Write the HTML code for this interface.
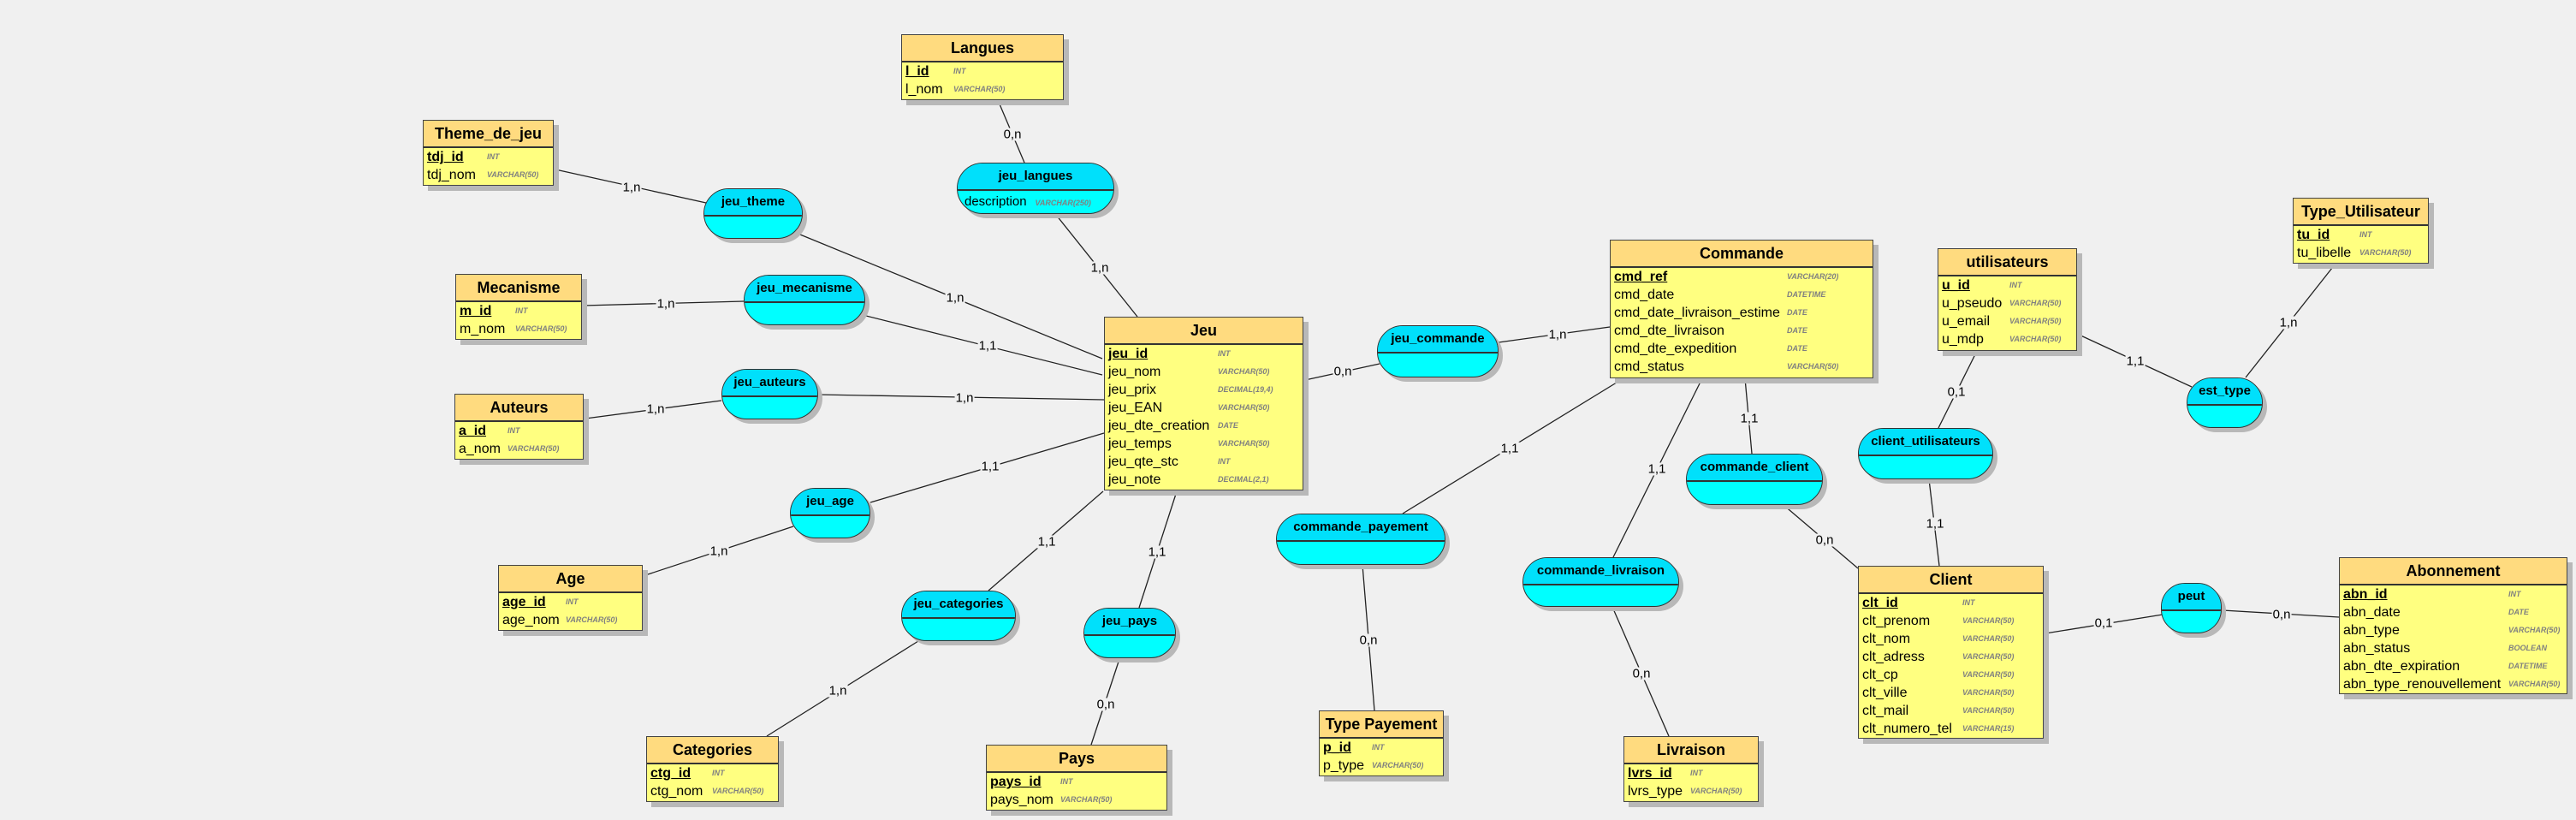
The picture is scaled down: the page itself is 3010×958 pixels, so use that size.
<!DOCTYPE html>
<html><head><meta charset="utf-8"><style>
body{margin:0;width:3010px;height:958px;background:#f0f0f0;position:relative;overflow:hidden;font-family:"Liberation Sans",sans-serif;}
.e{position:absolute;background:#ffff80;border:1px solid #444;box-shadow:6px 6px 0 #b8b8b8;box-sizing:border-box;}
.e .h{height:30px;background:#ffdb7f;border-bottom:2px solid #333;text-align:center;font-weight:bold;font-size:18px;line-height:30px;}
.e .r{height:21px;line-height:21px;font-size:16px;padding-left:4px;position:relative;white-space:nowrap;}
.e .r i{position:absolute;top:0;font-size:9px;color:#808080;font-weight:bold;}
.e .k{font-weight:bold;text-decoration:underline;}
.a{position:absolute;background:#00ffff;border:1px solid #333;border-radius:30px;box-shadow:5px 5px 0 #b8b8b8;box-sizing:border-box;overflow:hidden;}
.a .h{height:30px;background:#00e0fb;border-bottom:2px solid #333;text-align:center;font-weight:bold;font-size:15px;line-height:30px;white-space:nowrap;}
.a .b{font-size:15px;padding-left:8px;line-height:26px;white-space:nowrap;}
.a .b i{font-size:9px;color:#808080;font-weight:bold;margin-left:10px;}
.l{position:absolute;font-size:15px;background:#f0f0f0;transform:translate(-50%,-50%);line-height:15px;padding:0 1px;}
svg{position:absolute;left:0;top:0;}
</style></head><body>
<svg width="3010" height="958"><g stroke="#222" stroke-width="1.3">
<line x1="1166" y1="117" x2="1197" y2="190"/>
<line x1="1234" y1="251" x2="1329" y2="370"/>
<line x1="649" y1="198" x2="825" y2="237"/>
<line x1="930" y1="272" x2="1288" y2="419"/>
<line x1="681" y1="357" x2="869" y2="352"/>
<line x1="1008" y1="368" x2="1288" y2="438"/>
<line x1="684" y1="489" x2="843" y2="468"/>
<line x1="956" y1="461" x2="1290" y2="467"/>
<line x1="1017" y1="587" x2="1290" y2="506"/>
<line x1="751" y1="673" x2="927" y2="615"/>
<line x1="1289" y1="574" x2="1155" y2="690"/>
<line x1="1073" y1="749" x2="896" y2="860"/>
<line x1="1375" y1="574" x2="1331" y2="710"/>
<line x1="1308" y1="770" x2="1275" y2="870"/>
<line x1="1525" y1="444" x2="1612" y2="425"/>
<line x1="1751" y1="400" x2="1881" y2="382"/>
<line x1="1897" y1="442" x2="1639" y2="600"/>
<line x1="1989" y1="442" x2="1885" y2="651"/>
<line x1="2039" y1="442" x2="2047" y2="530"/>
<line x1="2084" y1="590" x2="2171" y2="664"/>
<line x1="1592" y1="660" x2="1606" y2="830"/>
<line x1="1884" y1="709" x2="1950" y2="860"/>
<line x1="2310" y1="410" x2="2265" y2="500"/>
<line x1="2254" y1="560" x2="2266" y2="661"/>
<line x1="2427" y1="390" x2="2561" y2="452"/>
<line x1="2729" y1="308" x2="2624" y2="441"/>
<line x1="2390" y1="740" x2="2527" y2="718"/>
<line x1="2597" y1="713" x2="2733" y2="721"/>
</g></svg>
<div class="l" style="left:1183px;top:157px">0,n</div>
<div class="l" style="left:1285px;top:313px">1,n</div>
<div class="l" style="left:738px;top:219px">1,n</div>
<div class="l" style="left:1116px;top:348px">1,n</div>
<div class="l" style="left:778px;top:355px">1,n</div>
<div class="l" style="left:1154px;top:404px">1,1</div>
<div class="l" style="left:766px;top:478px">1,n</div>
<div class="l" style="left:1127px;top:465px">1,n</div>
<div class="l" style="left:1157px;top:545px">1,1</div>
<div class="l" style="left:840px;top:644px">1,n</div>
<div class="l" style="left:1223px;top:633px">1,1</div>
<div class="l" style="left:979px;top:807px">1,n</div>
<div class="l" style="left:1352px;top:645px">1,1</div>
<div class="l" style="left:1292px;top:823px">0,n</div>
<div class="l" style="left:1569px;top:434px">0,n</div>
<div class="l" style="left:1820px;top:391px">1,n</div>
<div class="l" style="left:1764px;top:524px">1,1</div>
<div class="l" style="left:1936px;top:548px">1,1</div>
<div class="l" style="left:2044px;top:489px">1,1</div>
<div class="l" style="left:2132px;top:631px">0,n</div>
<div class="l" style="left:1599px;top:748px">0,n</div>
<div class="l" style="left:1918px;top:787px">0,n</div>
<div class="l" style="left:2286px;top:458px">0,1</div>
<div class="l" style="left:2261px;top:612px">1,1</div>
<div class="l" style="left:2495px;top:422px">1,1</div>
<div class="l" style="left:2674px;top:377px">1,n</div>
<div class="l" style="left:2458px;top:728px">0,1</div>
<div class="l" style="left:2666px;top:718px">0,n</div>

<!-- Entities -->
<div class="e" style="left:1053px;top:40px;width:190px;height:77px"><div class="h">Langues</div>
<div class="r"><span class="k">l_id</span><i style="left:60px">INT</i></div>
<div class="r">l_nom<i style="left:60px">VARCHAR(50)</i></div></div>

<div class="e" style="left:494px;top:140px;width:153px;height:77px"><div class="h">Theme_de_jeu</div>
<div class="r"><span class="k">tdj_id</span><i style="left:74px">INT</i></div>
<div class="r">tdj_nom<i style="left:74px">VARCHAR(50)</i></div></div>

<div class="e" style="left:532px;top:320px;width:148px;height:77px"><div class="h">Mecanisme</div>
<div class="r"><span class="k">m_id</span><i style="left:69px">INT</i></div>
<div class="r">m_nom<i style="left:69px">VARCHAR(50)</i></div></div>

<div class="e" style="left:531px;top:460px;width:151px;height:77px"><div class="h">Auteurs</div>
<div class="r"><span class="k">a_id</span><i style="left:61px">INT</i></div>
<div class="r">a_nom<i style="left:61px">VARCHAR(50)</i></div></div>

<div class="e" style="left:1290px;top:370px;width:233px;height:203px"><div class="h">Jeu</div>
<div class="r"><span class="k">jeu_id</span><i style="left:132px">INT</i></div>
<div class="r">jeu_nom<i style="left:132px">VARCHAR(50)</i></div>
<div class="r">jeu_prix<i style="left:132px">DECIMAL(19,4)</i></div>
<div class="r">jeu_EAN<i style="left:132px">VARCHAR(50)</i></div>
<div class="r">jeu_dte_creation<i style="left:132px">DATE</i></div>
<div class="r">jeu_temps<i style="left:132px">VARCHAR(50)</i></div>
<div class="r">jeu_qte_stc<i style="left:132px">INT</i></div>
<div class="r">jeu_note<i style="left:132px">DECIMAL(2,1)</i></div></div>

<div class="e" style="left:582px;top:660px;width:169px;height:77px"><div class="h">Age</div>
<div class="r"><span class="k">age_id</span><i style="left:78px">INT</i></div>
<div class="r">age_nom<i style="left:78px">VARCHAR(50)</i></div></div>

<div class="e" style="left:755px;top:860px;width:155px;height:77px"><div class="h">Categories</div>
<div class="r"><span class="k">ctg_id</span><i style="left:76px">INT</i></div>
<div class="r">ctg_nom<i style="left:76px">VARCHAR(50)</i></div></div>

<div class="e" style="left:1152px;top:870px;width:212px;height:77px"><div class="h">Pays</div>
<div class="r"><span class="k">pays_id</span><i style="left:86px">INT</i></div>
<div class="r">pays_nom<i style="left:86px">VARCHAR(50)</i></div></div>

<div class="e" style="left:1881px;top:280px;width:308px;height:162px"><div class="h">Commande</div>
<div class="r"><span class="k">cmd_ref</span><i style="left:206px">VARCHAR(20)</i></div>
<div class="r">cmd_date<i style="left:206px">DATETIME</i></div>
<div class="r">cmd_date_livraison_estime<i style="left:206px">DATE</i></div>
<div class="r">cmd_dte_livraison<i style="left:206px">DATE</i></div>
<div class="r">cmd_dte_expedition<i style="left:206px">DATE</i></div>
<div class="r">cmd_status<i style="left:206px">VARCHAR(50)</i></div></div>

<div class="e" style="left:2264px;top:290px;width:163px;height:120px"><div class="h">utilisateurs</div>
<div class="r"><span class="k">u_id</span><i style="left:83px">INT</i></div>
<div class="r">u_pseudo<i style="left:83px">VARCHAR(50)</i></div>
<div class="r">u_email<i style="left:83px">VARCHAR(50)</i></div>
<div class="r">u_mdp<i style="left:83px">VARCHAR(50)</i></div></div>

<div class="e" style="left:2679px;top:231px;width:159px;height:77px"><div class="h">Type_Utilisateur</div>
<div class="r"><span class="k">tu_id</span><i style="left:77px">INT</i></div>
<div class="r">tu_libelle<i style="left:77px">VARCHAR(50)</i></div></div>

<div class="e" style="left:2171px;top:661px;width:217px;height:202px"><div class="h">Client</div>
<div class="r"><span class="k">clt_id</span><i style="left:121px">INT</i></div>
<div class="r">clt_prenom<i style="left:121px">VARCHAR(50)</i></div>
<div class="r">clt_nom<i style="left:121px">VARCHAR(50)</i></div>
<div class="r">clt_adress<i style="left:121px">VARCHAR(50)</i></div>
<div class="r">clt_cp<i style="left:121px">VARCHAR(50)</i></div>
<div class="r">clt_ville<i style="left:121px">VARCHAR(50)</i></div>
<div class="r">clt_mail<i style="left:121px">VARCHAR(50)</i></div>
<div class="r">clt_numero_tel<i style="left:121px">VARCHAR(15)</i></div></div>

<div class="e" style="left:2733px;top:651px;width:267px;height:160px"><div class="h">Abonnement</div>
<div class="r"><span class="k">abn_id</span><i style="left:197px">INT</i></div>
<div class="r">abn_date<i style="left:197px">DATE</i></div>
<div class="r">abn_type<i style="left:197px">VARCHAR(50)</i></div>
<div class="r">abn_status<i style="left:197px">BOOLEAN</i></div>
<div class="r">abn_dte_expiration<i style="left:197px">DATETIME</i></div>
<div class="r">abn_type_renouvellement<i style="left:197px">VARCHAR(50)</i></div></div>

<div class="e" style="left:1541px;top:830px;width:146px;height:77px"><div class="h">Type Payement</div>
<div class="r"><span class="k">p_id</span><i style="left:61px">INT</i></div>
<div class="r">p_type<i style="left:61px">VARCHAR(50)</i></div></div>

<div class="e" style="left:1897px;top:860px;width:158px;height:77px"><div class="h">Livraison</div>
<div class="r"><span class="k">lvrs_id</span><i style="left:77px">INT</i></div>
<div class="r">lvrs_type<i style="left:77px">VARCHAR(50)</i></div></div>

<!-- Associations -->
<div class="a" style="left:822px;top:220px;width:116px;height:59px"><div class="h">jeu_theme</div></div>
<div class="a" style="left:1118px;top:190px;width:184px;height:60px"><div class="h">jeu_langues</div><div class="b">description<i>VARCHAR(250)</i></div></div>
<div class="a" style="left:869px;top:321px;width:142px;height:59px"><div class="h">jeu_mecanisme</div></div>
<div class="a" style="left:843px;top:431px;width:113px;height:59px"><div class="h">jeu_auteurs</div></div>
<div class="a" style="left:923px;top:570px;width:94px;height:59px"><div class="h">jeu_age</div></div>
<div class="a" style="left:1053px;top:690px;width:134px;height:59px"><div class="h">jeu_categories</div></div>
<div class="a" style="left:1266px;top:710px;width:108px;height:59px"><div class="h">jeu_pays</div></div>
<div class="a" style="left:1609px;top:380px;width:142px;height:61px"><div class="h">jeu_commande</div></div>
<div class="a" style="left:1491px;top:600px;width:198px;height:60px"><div class="h">commande_payement</div></div>
<div class="a" style="left:1779px;top:651px;width:183px;height:58px"><div class="h">commande_livraison</div></div>
<div class="a" style="left:1970px;top:530px;width:160px;height:60px"><div class="h">commande_client</div></div>
<div class="a" style="left:2171px;top:500px;width:158px;height:60px"><div class="h">client_utilisateurs</div></div>
<div class="a" style="left:2555px;top:441px;width:89px;height:59px"><div class="h">est_type</div></div>
<div class="a" style="left:2525px;top:681px;width:71px;height:59px;border-radius:28px"><div class="h">peut</div></div>
</body></html>
